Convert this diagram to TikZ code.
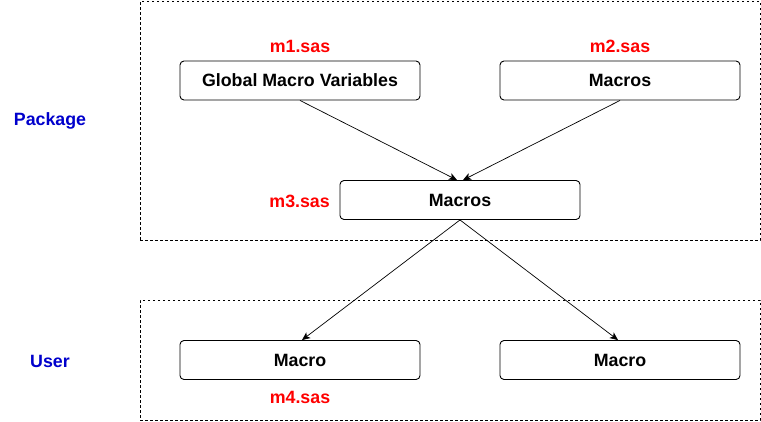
\documentclass[tikz,border=0pt]{standalone}
\usepackage{fontspec}
\setmainfont{Liberation Sans}
\usetikzlibrary{arrows.meta}
\definecolor{lblred}{HTML}{FF0000}
\definecolor{lblblue}{HTML}{0000CC}
\begin{document}
\begin{tikzpicture}[x=1pt, y=-1pt]
	\tikzstyle{macbox} = [draw, rounded corners=4pt, line width=0.9pt, minimum width=240pt, minimum height=39pt, inner sep=0pt, font=\bfseries\fontsize{17.8}{20}\selectfont]
	\tikzstyle{area} = [draw, line width=0.8pt, dash pattern=on 2.5pt off 2.5pt]
	\tikzstyle{file} = [text=lblred, font=\bfseries\fontsize{17.8}{20}\selectfont, inner sep=0pt]
	\tikzstyle{layer} = [text=lblblue, font=\bfseries\fontsize{17.8}{20}\selectfont, inner sep=0pt]
	\tikzstyle{link} = [-{Stealth[length=8pt, width=7pt, inset=2pt]}, line width=0.7pt]
	\useasboundingbox (0,0) rectangle (761,421);
	\node[area, minimum width=620pt, minimum height=239pt] (pkg) at (450,120.5) {};
	\node[area, minimum width=620pt, minimum height=120pt] (usr) at (450,360) {};
	\node[layer] (pkglbl) at (50,121) {Package};
	\node[layer] (usrlbl) at (50,361) {User};
	\node[macbox] (gmv) at (300,80.5) {Global Macro Variables};
	\node[macbox] (mac2) at (620,80.5) {Macros};
	\node[macbox] (mac3) at (460,200) {Macros};
	\node[macbox] (use1) at (300,360) {Macro};
	\node[macbox] (use2) at (620,360) {Macro};
	\node[file] (f1) at (300,46) {m1.sas};
	\node[file] (f2) at (620,46) {m2.sas};
	\node[file, anchor=east] (f3) at (330,201) {m3.sas};
	\node[file] (f4) at (300,397) {m4.sas};
	\draw[link] (gmv.south) -- ([xshift=-3pt]mac3.north);
	\draw[link] (mac2.south) -- ([xshift=3pt]mac3.north);
	\draw[link] (mac3.south) -- ([xshift=2pt]use1.north);
	\draw[link] (mac3.south) -- ([xshift=-2pt]use2.north);
\end{tikzpicture}
\end{document}
